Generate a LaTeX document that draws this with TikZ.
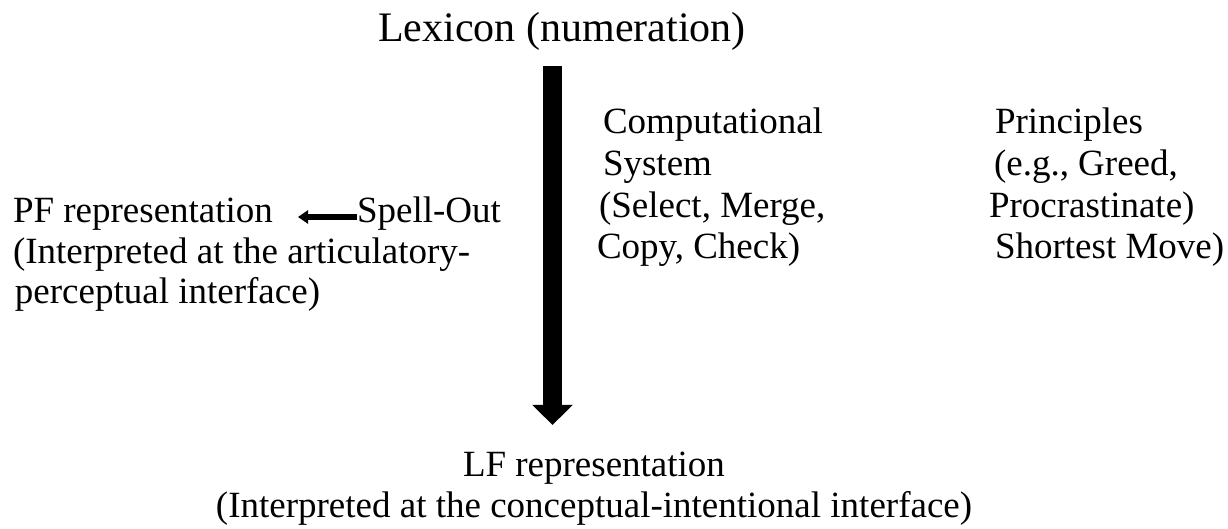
\documentclass[tikz,border=0pt]{standalone}
\usepackage{fontspec}
\setmainfont{Liberation Serif}
\usetikzlibrary{arrows.meta}
\tikzset{
  body/.style={inner sep=0pt, outer sep=0pt, font=\fontsize{18.5}{20.5}\selectfont},
  leftbody/.style={body, font=\fontsize{18.5}{20.25}\selectfont},
  widebody/.style={body, font=\fontsize{18.5}{20.9}\selectfont},
  heading/.style={inner sep=0pt, outer sep=0pt, font=\fontsize{21}{24}\selectfont},
  bigarrow/.style={line width=9.5pt, -{Triangle[width=19.5pt,length=10pt]}},
  smallarrow/.style={line width=3pt, -{Triangle[width=6.5pt,length=5pt]}}
}
\newcommand{\leftcol}[1]{\begin{tabular}[t]{@{}l@{}}#1\end{tabular}}
\newcommand{\midcol}[1]{\begin{tabular}[t]{@{}c@{}}#1\end{tabular}}
\begin{document}
\begin{tikzpicture}[x=0.5pt, y=-0.5pt]
  \useasboundingbox (0,0) rectangle (1228,529);

  % lexicon at the top
  \node[heading, anchor=base] (lex) at (562,42) {Lexicon (numeration)};

  % the computational system: one thick downward arrow
  \coordinate (cs-top) at (552.5,66);
  \coordinate (cs-tip) at (552.5,425);
  \draw[bigarrow] (cs-top) -- (cs-tip);

  % PF branch
  \node[leftbody, anchor=base west] (pf) at (13,223) {\leftcol{PF representation\\
    (Interpreted at the articulatory-\\
    \hspace*{1pt}perceptual interface)}};
  \node[body, anchor=base west] (spell) at (357,223) {Spell-Out};
  \coordinate (pf-end) at (298,217);
  \draw[smallarrow] (spell.west |- pf-end) -- (pf-end);

  % operations of the computational system
  \node[widebody, anchor=base west] (ops) at (597,133.5) {\leftcol{\hspace*{3pt}Computational\\
    \hspace*{3pt}System\\
    \hspace*{1pt}(Select, Merge,\\
    Copy, Check)}};

  % economy principles
  \node[widebody, anchor=base west] (princ) at (989,133.5) {\leftcol{\hspace*{3pt}Principles\\
    \hspace*{2.5pt}(e.g., Greed,\\
    Procrastinate)\\
    \hspace*{3pt}Shortest Move)}};

  % LF at the bottom
  \node[body, anchor=base] (lf) at (594,477) {\midcol{LF representation\\
    (Interpreted at the conceptual-intentional interface)}};
\end{tikzpicture}
\end{document}
